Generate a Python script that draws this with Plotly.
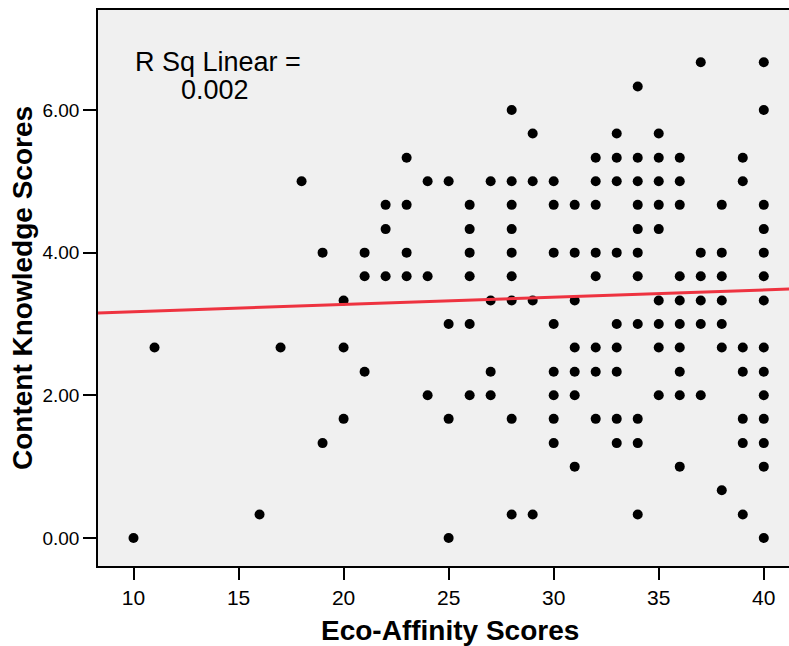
import plotly.graph_objects as go

# Eco-Affinity score values (x) and the Content Knowledge scores observed at each
eco_values = [10, 11, 16, 17, 18, 19, 20, 21, 22, 23, 24, 25, 26, 27, 28, 29,
              30, 31, 32, 33, 34, 35, 36, 37, 38, 39, 40]
knowledge_by_eco = [
    [0.00],
    [2.67],
    [0.33],
    [2.67],
    [5.00],
    [4.00, 1.33],
    [3.33, 2.67, 1.67],
    [4.00, 3.67, 2.33],
    [4.67, 4.33, 3.67],
    [5.33, 4.67, 4.00, 3.67],
    [5.00, 3.67, 2.00],
    [5.00, 3.00, 1.67, 0.00],
    [4.67, 4.33, 4.00, 3.67, 3.00, 2.00],
    [5.00, 3.33, 2.33, 2.00],
    [6.00, 5.00, 4.67, 4.33, 4.00, 3.67, 3.33, 1.67, 0.33],
    [5.67, 5.00, 3.33, 0.33],
    [5.00, 4.67, 4.00, 3.00, 2.33, 2.00, 1.67, 1.33],
    [4.67, 4.00, 3.33, 2.67, 2.33, 2.00, 1.00],
    [5.33, 5.00, 4.67, 4.00, 3.67, 2.67, 2.33, 1.67],
    [5.67, 5.33, 5.00, 4.00, 3.00, 2.67, 2.33, 1.67, 1.33],
    [6.33, 5.33, 5.00, 4.67, 4.33, 4.00, 3.67, 3.00, 1.67, 1.33, 0.33],
    [5.67, 5.33, 5.00, 4.67, 4.33, 3.33, 3.00, 2.67, 2.00],
    [5.33, 5.00, 4.67, 3.67, 3.33, 3.00, 2.67, 2.33, 2.00, 1.00],
    [6.67, 4.00, 3.67, 3.33, 3.00, 2.00],
    [4.67, 4.00, 3.67, 3.33, 3.00, 2.67, 0.67],
    [5.33, 5.00, 2.67, 2.33, 1.67, 1.33, 0.33],
    [6.67, 6.00, 4.67, 4.33, 4.00, 3.67, 3.33, 2.67, 2.33, 2.00, 1.67, 1.33, 1.00, 0.00],
]

# Linear fit (R Sq Linear = 0.002)
fit_intercept = 3.07
fit_slope = 0.0102
r_squared_text = "0.002"

x_ticks = [10, 15, 20, 25, 30, 35, 40]
y_ticks = [0, 2, 4, 6]
y_tick_labels = ["0.00", "2.00", "4.00", "6.00"]
x_title = "Eco-Affinity Scores"
y_title = "Content Knowledge Scores"

x_range = [8.31, 41.2]
y_range = [-0.393, 7.402]

xs, ys = [], []
for eco, scores in zip(eco_values, knowledge_by_eco):
    for s in scores:
        xs.append(eco)
        ys.append(s)

fit_x = [x_range[0] - 1, x_range[1] + 1]
fit_y = [fit_intercept + fit_slope * v for v in fit_x]

W, H = 789, 646
ml, mr, mt, mb = 98, 0, 10, 80
pw, ph = W - ml - mr, H - mt - mb


def px_to_paper(px, py):
    return (px - ml) / pw, 1 - (py - mt) / ph


fig = go.Figure()
fig.add_trace(go.Scatter(
    x=xs, y=ys, mode="markers",
    marker=dict(color="black", size=10, line=dict(width=0)),
    hoverinfo="skip", showlegend=False,
))
fig.add_trace(go.Scatter(
    x=fit_x, y=fit_y, mode="lines",
    line=dict(color="#ee3340", width=3),
    hoverinfo="skip", showlegend=False,
))

# Two-line R-squared label in the upper left of the plot
for text, (px, py) in [("R Sq Linear =", (218, 62)), (r_squared_text, (215, 90))]:
    ax, ay = px_to_paper(px, py)
    fig.add_annotation(x=ax, y=ay, xref="paper", yref="paper", text=text,
                       xanchor="center", yanchor="middle", showarrow=False,
                       font=dict(size=27, color="black"))

# x-axis title, centred under the visible tick range
tx, ty = px_to_paper(450, 630)
fig.add_annotation(x=tx, y=ty, xref="paper", yref="paper", text="<b>%s</b>" % x_title,
                   xanchor="center", yanchor="middle", showarrow=False,
                   font=dict(size=28, color="black"))

fig.update_layout(
    width=W, height=H,
    margin=dict(l=ml, r=mr, t=mt, b=mb, pad=0),
    paper_bgcolor="white",
    plot_bgcolor="#f0f0f0",
    font=dict(family="Arial, Liberation Sans, sans-serif", color="black"),
    xaxis=dict(
        range=x_range, tickvals=x_ticks, ticks="outside", ticklen=12, tickwidth=1.5,
        tickcolor="black", showline=True, linecolor="black", linewidth=1.5, mirror=True,
        showgrid=False, zeroline=False,
        tickfont=dict(size=21, family="Liberation Sans Narrow, Arial Narrow, Arial, sans-serif"),
    ),
    yaxis=dict(
        range=y_range, tickvals=y_ticks, ticktext=y_tick_labels, ticks="outside",
        ticklen=13, tickwidth=1.5, tickcolor="black", showline=True, linecolor="black",
        linewidth=1.5, mirror=False, showgrid=False, zeroline=False,
        tickfont=dict(size=19),
        title=dict(text="<b>%s</b>" % y_title, font=dict(size=28), standoff=2),
    ),
)

fig.write_html("out.html")
